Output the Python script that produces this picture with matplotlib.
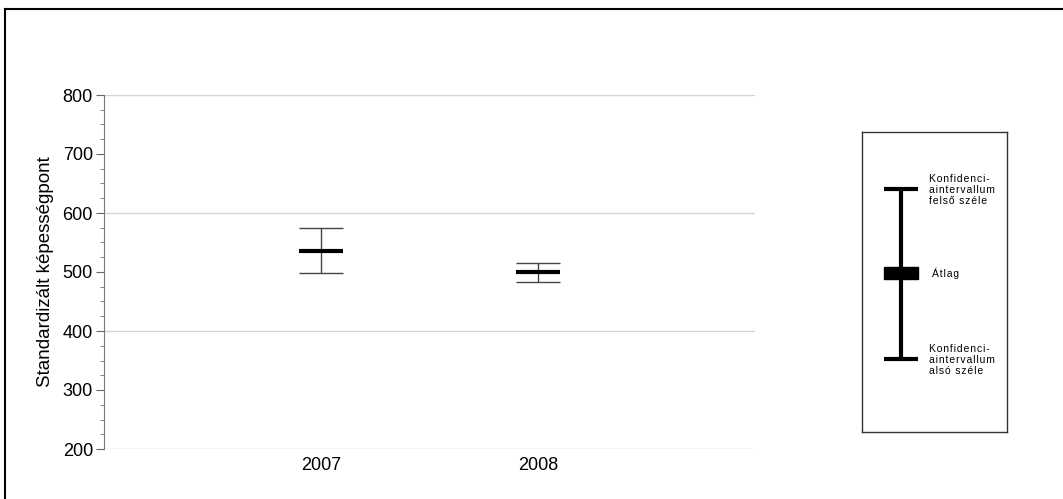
import matplotlib.pyplot as plt
from matplotlib.patches import Rectangle
from matplotlib.lines import Line2D

years = ["2007", "2008"]
means = [536, 500]
upper = [575, 515]
lower = [498, 483]

gridlines = [200, 400, 600, 800]

plt.rcParams["font.family"] = ["Liberation Sans", "DejaVu Sans"]

fig = plt.figure(figsize=(10.63, 4.99), dpi=100)
ax = fig.add_axes([104 / 1063, 1 - 449 / 499, 651 / 1063, 354 / 499])

x = range(1, len(years) + 1)
cap = 0.1
for xi, m, hi, lo in zip(x, means, upper, lower):
    ax.vlines(xi, lo, hi, color="#444444", lw=1.0)
    ax.hlines([lo, hi], xi - cap, xi + cap, color="#444444", lw=1.0)
    ax.hlines(m, xi - cap, xi + cap, color="black", lw=3.0)

ax.hlines(gridlines, 0, 3, color="#d4d4d4", lw=1.0, zorder=0)

ax.set_xlim(0, 3)
ax.set_ylim(200, 800)
ax.set_xticks(list(x))
ax.set_xticklabels(years, fontsize=13)
ax.set_yticks(range(200, 801, 100))
ax.set_yticks(range(200, 801, 25), minor=True)
ax.tick_params(axis="y", which="major", length=6, color="#666666", labelsize=13, pad=2)
ax.tick_params(axis="y", which="minor", length=3, color="#666666")
ax.tick_params(axis="x", length=0, pad=6)
for s in ["top", "right", "bottom"]:
    ax.spines[s].set_visible(False)
ax.spines["left"].set_color("#777777")
ax.set_ylabel("Standardizált képességpont", fontsize=13.5, labelpad=6)

# legend box, drawn by hand
lg = fig.add_axes([862 / 1063, 1 - 432 / 499, 145 / 1063, 300 / 499])
lg.set_xlim(862, 1007)
lg.set_ylim(432, 132)
lg.set_xticks([])
lg.set_yticks([])
for s in lg.spines.values():
    s.set_color("#333333")
    s.set_linewidth(1.0)
lg.vlines(901, 189, 359, color="black", lw=3)
lg.hlines([189, 359], 884, 918, color="black", lw=3)
lg.add_patch(Rectangle((884, 267), 34, 12, color="black"))


def spaced(s):
    return "\u200a".join(s)


txt = dict(fontsize=7.5, va="center", ha="left", linespacing=1.15, clip_on=False)
lg.text(929, 190, "\n".join(spaced(t) for t in ["Konfidenci-", "aintervallum", "felső széle"]), **txt)
lg.text(932, 273, spaced("Átlag"), **txt)
lg.text(929, 360, "\n".join(spaced(t) for t in ["Konfidenci-", "aintervallum", "alsó széle"]), **txt)

# outer frame (only left and top edges show)
fig.add_artist(Line2D([4.5 / 1063, 4.5 / 1063], [0, 1 - 8.5 / 499], transform=fig.transFigure,
                      color="black", lw=1.5))
fig.add_artist(Line2D([4.5 / 1063, 1], [1 - 8.5 / 499, 1 - 8.5 / 499], transform=fig.transFigure,
                      color="black", lw=1.5))

fig.savefig("out.png", dpi=100)
